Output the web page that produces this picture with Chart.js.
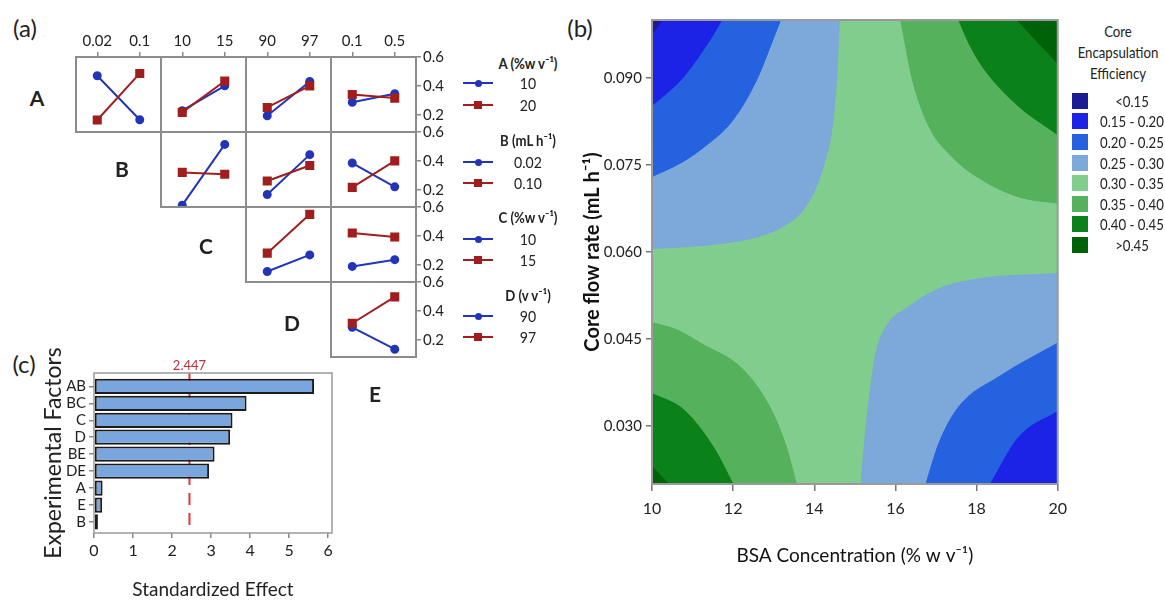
<!DOCTYPE html>
<html>
<head>
<meta charset="utf-8">
<script src="https://cdn.jsdelivr.net/npm/chart.js@4.4.1/dist/chart.umd.min.js"></script>
<style>
  body { margin: 0; background: #fff; width: 1165px; height: 601px; position: relative; overflow: hidden;
         font-family: Lato, "Open Sans", sans-serif; color: #222; }
  canvas { position: absolute; }
  .txt { position: absolute; white-space: nowrap; transform: translate(-50%, -50%); line-height: 1; }
  .txt.narrow { transform: translate(-50%, -50%) scaleX(0.88); }
  .sw { position: absolute; }
</style>
</head>
<body>
<script>
const FONT = 'Lato, "Open Sans", sans-serif';

// ---- (a) interaction plot data
const rowFactors = ['A', 'B', 'C', 'D'];
const colFactors = ['B', 'C', 'D', 'E'];
const colLevels = [['0.02', '0.1'], ['10', '15'], ['90', '97'], ['0.1', '0.5']];
const pairs = ['AB', 'AC', 'AD', 'AE', 'BC', 'BD', 'BE', 'CD', 'CE', 'DE'];
const lowMeans = [[0.47, 0.165], [0.228, 0.40], [0.193, 0.43], [0.286, 0.345], [0.093, 0.514],
                  [0.167, 0.443], [0.385, 0.22], [0.153, 0.268], [0.188, 0.235], [0.286, 0.134]];
const highMeans = [[0.163, 0.486], [0.216, 0.434], [0.25, 0.40], [0.34, 0.315], [0.32, 0.307],
                   [0.26, 0.368], [0.216, 0.40], [0.28, 0.549], [0.42, 0.392], [0.314, 0.497]];
const meanTicks = [0.2, 0.4, 0.6];
const legendTitles = ['A (%w v\u207B\u00B9)', 'B (mL h\u207B\u00B9)', 'C (%w v\u207B\u00B9)', 'D (v v\u207B\u00B9)'];
const legendLevels = [['10', '20'], ['0.02', '0.10'], ['10', '15'], ['90', '97']];

// ---- (b) contour data (boundaries between bands)
const bandNames = ['<0.15', '0.15 - 0.20', '0.20 - 0.25', '0.25 - 0.30', '0.30 - 0.35', '0.35 - 0.40', '0.40 - 0.45', '>0.45'];
const bandColors = ['#1b1b96', '#1c22e6', '#2562e0', '#7ca8da', '#80cd8e', '#55b15b', '#0b8119', '#006208'];
const edge030TL = [[10, 0.0606], [11.0, 0.0610], [11.84, 0.0616], [12.58, 0.0626], [13.23, 0.0644], [13.72, 0.0672], [14.05, 0.0713], [14.29, 0.0764], [14.42, 0.0805], [14.54, 0.0891], [14.62, 0.10]];
const edge025TL = [[10, 0.073], [10.69, 0.0753], [11.19, 0.0776], [12.0, 0.0828], [12.58, 0.0897], [12.98, 0.0966], [13.17, 0.10]];
const edge020TL = [[10, 0.0853], [10.37, 0.0874], [10.78, 0.0902], [11.43, 0.0966], [11.72, 0.10]];
const edge015TL = [[10, 0.0976], [10.25, 0.10]];
const edge035TR = [[16.13, 0.10], [16.42, 0.0897], [16.83, 0.0816], [17.4, 0.0764], [18.14, 0.0724], [19.04, 0.0695], [20, 0.0684]];
const edge040TR = [[17.56, 0.10], [17.81, 0.096], [18.14, 0.092], [18.96, 0.0856], [20, 0.0802]];
const edge045TR = [[19.0, 0.10], [19.53, 0.096], [20, 0.0925]];
const edge035BL = [[10, 0.0478], [10.61, 0.0466], [11.19, 0.0443], [12.25, 0.0397], [12.9, 0.0333], [13.31, 0.0264], [13.56, 0.02]];
const edge040BL = [[10, 0.0356], [10.78, 0.0328], [11.51, 0.0264], [12.0, 0.02]];
const edge045BL = [[10, 0.023], [10.41, 0.02]];
const edge030BR = [[15.15, 0.02], [15.23, 0.0264], [15.36, 0.035], [15.52, 0.0425], [15.77, 0.0471], [16.34, 0.0506], [16.99, 0.0534], [17.89, 0.0552], [20, 0.0563]];
const edge025BR = [[16.75, 0.02], [17.07, 0.027], [17.56, 0.0333], [18.55, 0.0385], [20, 0.0443]];
const edge020BR = [[18.34, 0.02], [19.04, 0.0281], [20, 0.0325]];
const middleBand = 4;
// [edge, band beyond the edge, side filled, nesting depth]
const contourPatches = [
  [edge030TL, 3, 'end', 0], [edge025TL, 2, 'end', 1], [edge020TL, 1, 'end', 2], [edge015TL, 0, 'end', 3],
  [edge035TR, 5, 'end', 0], [edge040TR, 6, 'end', 1], [edge045TR, 7, 'end', 2],
  [edge035BL, 5, 'start', 0], [edge040BL, 6, 'start', 1], [edge045BL, 7, 'start', 2],
  [edge030BR, 3, 'start', 0], [edge025BR, 2, 'start', 1], [edge020BR, 1, 'start', 2]
];
const bsaTicks = [10, 12, 14, 16, 18, 20];
const flowTicks = [0.030, 0.045, 0.060, 0.075, 0.090];

// ---- (c) pareto data
const effectTerms = ['AB', 'BC', 'C', 'D', 'BE', 'DE', 'A', 'E', 'B'];
const effectValues = [5.64, 3.91, 3.55, 3.49, 3.09, 2.95, 0.22, 0.21, 0.10];
const criticalEffect = 2.447;
const effectTicks = [0, 1, 2, 3, 4, 5, 6];

// ---------- helpers
function addCanvas(left, top, w, h) {
  const c = document.createElement('canvas');
  c.width = w; c.height = h;
  c.style.left = left + 'px'; c.style.top = top + 'px';
  c.style.width = w + 'px'; c.style.height = h + 'px';
  document.body.appendChild(c);
  return c;
}
function addText(str, x, y, css, cls) {
  const d = document.createElement('div');
  d.className = 'txt' + (cls ? ' ' + cls : '');
  d.textContent = str;
  d.style.left = x + 'px'; d.style.top = y + 'px';
  Object.assign(d.style, css || {});
  document.body.appendChild(d);
  return d;
}
function addBox(x, y, w, h, css) {
  const d = document.createElement('div');
  d.className = 'sw';
  Object.assign(d.style, { left: x + 'px', top: y + 'px', width: w + 'px', height: h + 'px' }, css);
  document.body.appendChild(d);
}
const frame = (color, width) => ({
  id: 'frame',
  afterDraw(chart) {
    const { ctx, chartArea: a } = chart;
    ctx.save();
    ctx.strokeStyle = color; ctx.lineWidth = width;
    ctx.strokeRect(a.left, a.top, a.right - a.left, a.bottom - a.top);
    ctx.restore();
  }
});

const BLUE = '#2234b8', RED = '#a11e1e';

// ---------- (a) grid of interaction plots
const cellX0 = 76, cellY0 = 57, cellW = 85, cellH = 75;
const TOPAX = 26, RIGHTAX = 34;
pairs.forEach((p, i) => {
  const r = rowFactors.indexOf(p[0]), c = colFactors.indexOf(p[1]);
  const isTop = r === 0, isRight = c === 3;
  const padL = 2, padR = isRight ? 0 : 2;
  const padT = isTop ? 0 : (isRight ? 12 : 2), padB = isRight ? 12 : 2;
  const cx = cellX0 + c * cellW, cy = cellY0 + r * cellH;
  const w = padL + cellW + (isRight ? RIGHTAX : padR);
  const h = (isTop ? TOPAX : 0) + padT + cellH + padB;
  const cv = addCanvas(cx - padL, cy - padT - (isTop ? TOPAX : 0), w, h);
  new Chart(cv, {
    type: 'line',
    data: {
      datasets: [
        { data: lowMeans[i].map((v, k) => ({ x: k, y: v })), borderColor: BLUE, backgroundColor: BLUE,
          borderWidth: 2, pointStyle: 'circle', pointRadius: 3.5, order: 1 },
        { data: highMeans[i].map((v, k) => ({ x: k, y: v })), borderColor: RED, backgroundColor: RED,
          borderWidth: 2, pointStyle: 'rect', pointRadius: 5, order: 0 }
      ]
    },
    options: {
      responsive: false, animation: false, events: [],
      layout: { autoPadding: false, padding: { left: padL, right: padR, top: padT, bottom: padB } },
      plugins: { legend: { display: false }, tooltip: { enabled: false } },
      scales: {
        x: {
          type: 'linear', position: 'top', min: -0.5, max: 1.5, display: isTop,
          afterBuildTicks: s => { s.ticks = [{ value: 0 }, { value: 1 }]; },
          afterFit: s => { if (isTop) s.height = TOPAX; },
          ticks: { callback: v => colLevels[c][v], font: { family: FONT, size: 15 }, color: '#222', padding: 2, maxRotation: 0, autoSkip: false },
          grid: { drawOnChartArea: false, tickLength: 5, color: '#888', lineWidth: 1.5 },
          border: { display: false }
        },
        y: {
          type: 'linear', position: 'right', min: 0.08, max: 0.6, display: isRight,
          afterBuildTicks: s => { s.ticks = meanTicks.map(v => ({ value: v })); },
          afterFit: s => { if (isRight) s.width = RIGHTAX; },
          ticks: { callback: v => v.toFixed(1), font: { family: FONT, size: 15 }, color: '#222', padding: 2, autoSkip: false },
          grid: { drawOnChartArea: false, tickLength: 5, color: '#888', lineWidth: 1.5 },
          border: { display: false }
        }
      }
    },
    plugins: [frame('#8c8c8c', 2)]
  });
});

// row labels
const rowLabelPos = [[37, 97], [122, 168], [206, 245], [292, 322], [375, 393]];
['A', 'B', 'C', 'D', 'E'].forEach((f, i) =>
  addText(f, rowLabelPos[i][0], rowLabelPos[i][1], { fontWeight: 'bold', fontSize: '21px' }));

// legend of (a)
const legHeadY = [63, 140, 217, 295], legLowY = [83, 162, 239, 316], legHighY = [105, 183, 260, 337];
legendTitles.forEach((t, g) => {
  addText(t, 528, legHeadY[g], { fontWeight: 'bold', fontSize: '15px' }, 'narrow');
  [[legLowY[g], BLUE, '50%', 7], [legHighY[g], RED, '0', 8]].forEach(([y, col, rad, sz], k) => {
    addBox(463, y - 1, 30, 2.2, { background: col });
    addBox(478 - sz / 2, y - sz / 2, sz, sz, { background: col, borderRadius: rad });
    addText(legendLevels[g][k], 528, y, { fontSize: '16px' }, 'narrow');
  });
});

// panel letters
addText('(a)', 25, 28, { fontSize: '24px' });
addText('(b)', 580, 28, { fontSize: '24px' });
addText('(c)', 24, 364, { fontSize: '24px' });

// ---------- (b) contour map
const bgBand = {
  id: 'bgBand',
  beforeDatasetsDraw(chart) {
    const { ctx, chartArea: a } = chart;
    ctx.save();
    ctx.fillStyle = bandColors[middleBand];
    ctx.fillRect(a.left, a.top, a.right - a.left, a.bottom - a.top);
    ctx.restore();
  }
};
new Chart(addCanvas(570, 0, 505, 601), {
  type: 'line',
  data: {
    datasets: contourPatches.map(([edge, band, side, depth]) => ({
      data: edge.map(([x, y]) => ({ x, y })),
      fill: side, backgroundColor: bandColors[band], borderColor: bandColors[band], borderWidth: 1,
      pointRadius: 0, cubicInterpolationMode: 'monotone', order: 10 - depth
    }))
  },
  options: {
    responsive: false, animation: false, events: [],
    layout: { autoPadding: false, padding: { top: 20, right: 16, left: 0, bottom: 0 } },
    plugins: { legend: { display: false }, tooltip: { enabled: false } },
    scales: {
      x: {
        type: 'linear', min: 10, max: 20,
        afterBuildTicks: s => { s.ticks = bsaTicks.map(v => ({ value: v })); },
        afterFit: s => { s.height = 117; },
        ticks: { font: { family: FONT, size: 16 }, color: '#222', padding: 8, autoSkip: false },
        grid: { drawOnChartArea: false, tickLength: 7, color: '#777', lineWidth: 1.5 },
        border: { display: false },
        title: { display: true, text: 'BSA Concentration (% w v\u207B\u00B9)', font: { family: FONT, size: 19 }, color: '#111', padding: { top: 0, bottom: 34 } }
      },
      y: {
        type: 'linear', min: 0.02, max: 0.10,
        afterBuildTicks: s => { s.ticks = flowTicks.map(v => ({ value: v })); },
        afterFit: s => { s.width = 82; },
        ticks: { callback: v => v.toFixed(3), font: { family: FONT, size: 15 }, color: '#222', padding: 4, autoSkip: false },
        grid: { drawOnChartArea: false, tickLength: 6, color: '#777', lineWidth: 1.5 },
        border: { display: false },
        title: { display: true, text: 'Core flow rate (mL h\u207B\u00B9)', font: { family: FONT, size: 20, weight: 'bold' }, color: '#111', padding: { top: 11, bottom: 0 } }
      }
    }
  },
  plugins: [bgBand, frame('#9a9a9a', 2)]
});

// legend of (b)
addText('Core', 1118, 31, { fontSize: '15px' }, 'narrow');
addText('Encapsulation', 1118, 52, { fontSize: '15px' }, 'narrow');
addText('Efficiency', 1118, 73, { fontSize: '15px' }, 'narrow');
bandNames.forEach((n, i) => {
  const y = 92.7 + i * 20.6;
  addBox(1072, y, 16, 16, { background: bandColors[i] });
  addText(n, 1132, y + 8, { fontSize: '15px' }, 'narrow');
});

// ---------- (c) pareto of standardized effects
const criticalLine = {
  id: 'criticalLine',
  beforeDatasetsDraw(chart) {
    const { ctx, chartArea: a, scales: { x } } = chart;
    const px = x.getPixelForValue(criticalEffect);
    ctx.save();
    ctx.strokeStyle = '#e3343c'; ctx.lineWidth = 2; ctx.setLineDash([12, 8]);
    ctx.beginPath(); ctx.moveTo(px, a.top); ctx.lineTo(px, a.bottom); ctx.stroke();
    ctx.setLineDash([]);
    ctx.fillStyle = '#b8323a'; ctx.font = '13px ' + FONT;
    ctx.textAlign = 'center'; ctx.textBaseline = 'bottom';
    ctx.fillText(criticalEffect.toFixed(3), px, a.top - 1);
    ctx.restore();
  }
};
new Chart(addCanvas(0, 340, 345, 261), {
  type: 'bar',
  data: {
    datasets: [{
      data: effectValues.map((v, i) => ({ x: v, y: i })),
      backgroundColor: '#7aa6e0', borderColor: '#1d1a17', borderWidth: 2, borderSkipped: false,
      categoryPercentage: 1, barPercentage: 0.9
    }]
  },
  options: {
    indexAxis: 'y', responsive: false, animation: false, events: [],
    layout: { autoPadding: false, padding: { top: 33, right: 13, left: 0, bottom: 0 } },
    plugins: { legend: { display: false }, tooltip: { enabled: false } },
    scales: {
      x: {
        type: 'linear', min: 0, max: 6.1,
        afterBuildTicks: s => { s.ticks = effectTicks.map(v => ({ value: v })); },
        afterFit: s => { s.height = 68; },
        ticks: { font: { family: FONT, size: 16 }, color: '#222', padding: 3, autoSkip: false },
        grid: { drawOnChartArea: false, tickLength: 5, color: '#888', lineWidth: 1.5 },
        border: { display: false },
        title: { display: true, text: 'Standardized Effect', font: { family: FONT, size: 19 }, color: '#222', padding: { top: 0, bottom: 0 } }
      },
      y: {
        type: 'linear', reverse: true, min: -0.79, max: 8.65, offset: false,
        afterBuildTicks: s => { s.ticks = effectTerms.map((t, i) => ({ value: i })); },
        afterFit: s => { s.width = 94; },
        ticks: { callback: v => effectTerms[v], font: { family: FONT, size: 15 }, color: '#222', padding: 3, autoSkip: false },
        grid: { drawOnChartArea: false, offset: false, tickLength: 5, color: '#888', lineWidth: 1.5 },
        border: { display: false },
        title: { display: true, text: 'Experimental Factors', font: { family: FONT, size: 23 }, color: '#222', padding: { top: 40, bottom: 0 } }
      }
    }
  },
  plugins: [criticalLine, frame('#9a9a9a', 1.5)]
});
</script>
</body>
</html>
